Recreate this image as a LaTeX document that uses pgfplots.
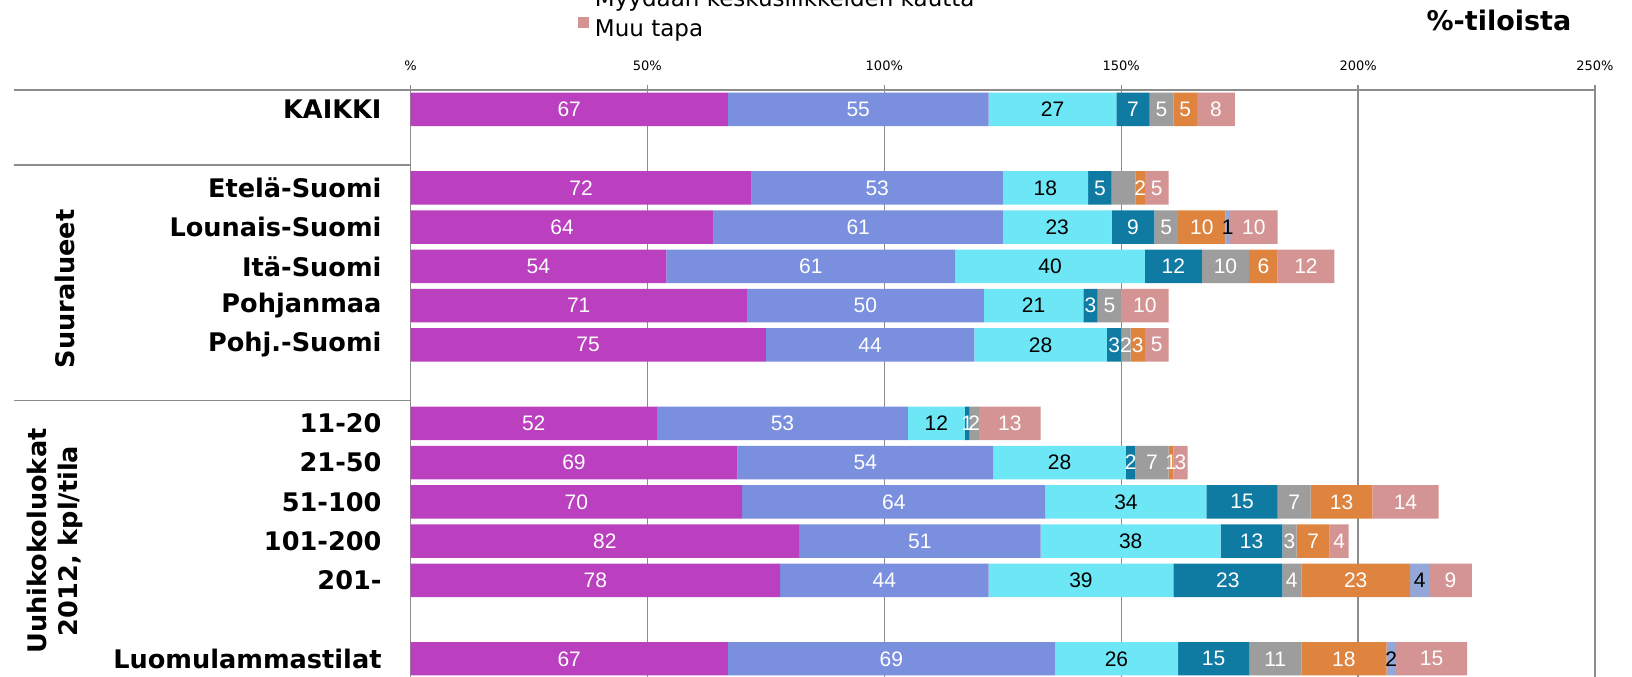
\documentclass[border=0pt]{standalone}
\usepackage{pgfplots}
\pgfplotsset{compat=1.18}
\usepackage{pgfplotstable}
\usepackage{fontspec}
\setmainfont{DejaVu Sans}
\newfontfamily\condfont{Liberation Sans}
\definecolor{c1}{RGB}{187,64,191}
\definecolor{c2}{RGB}{123,143,223}
\definecolor{c3}{RGB}{109,230,246}
\definecolor{c4}{RGB}{15,123,163}
\definecolor{c5}{RGB}{157,157,157}
\definecolor{c6}{RGB}{222,132,62}
\definecolor{c7}{RGB}{147,168,216}
\definecolor{c8}{RGB}{212,148,148}
\definecolor{axgray}{RGB}{140,140,140}

\pgfplotstableread{
y  a  b  c  d  e  f  g  h  le
14 67 55 27 7  5  5  0  8  5
12 72 53 18 5  5  2  0  5  0
11 64 61 23 9  5  10 1  10 5
10 54 61 40 12 10 6  0  12 10
9  71 50 21 3  5  0  0  10 5
8  75 44 28 3  2  3  0  5  2
6  52 53 12 1  2  0  0  13 2
5  69 54 28 2  7  1  0  3  7
4  70 64 34 15 7  13 0  14 7
3  82 51 38 13 3  7  0  4  3
2  78 44 39 23 4  23 4  9  4
0  67 69 26 15 11 18 2  15 11
}\data

\newcommand\seglabel{\pgfmathfloatifflags{\pgfplotspointmeta}{0}{}{%
  \pgfmathfloattofixed{\pgfplotspointmeta}\let\myv\pgfmathresult
  \pgfmathtruncatemacro\mylab{\myv}\mylab}}

\pgfplotsset{
  seg/.style n args={2}{
    fill=#1, draw=none,
    point meta=explicit,
    nodes near coords={\seglabel},
    every node near coord/.append style={anchor=center, inner sep=0pt,
      text=#2, font=\condfont\fontsize{10.5}{11}\selectfont},
  },
}

\begin{document}
\begin{tikzpicture}
\begin{axis}[
  at={(205.25pt,-1.2pt)}, anchor=south west,
  scale only axis, width=592.25pt, height=294.3pt,
  xbar stacked, bar width=16.7pt,
  xmin=0, xmax=250, ymin=-0.5, ymax=14.5,
  axis x line*=top, axis y line*=left,
  axis line style={draw=axgray, line width=0.7pt},
  xtick={0,50,...,250},
  xticklabels={\%,50\%,100\%,150\%,200\%,250\%},
  xmajorgrids, grid style={draw=axgray, line width=0.7pt},
  xtick style={draw=axgray, line width=0.7pt},
  major tick length=2.5pt, tick align=outside,
  xticklabel style={font=\fontsize{6.5}{7}\selectfont, inner sep=0pt, anchor=south, yshift=6.8pt},
  ytick={14,12,11,10,9,8,6,5,4,3,2,0},
  yticklabels={KAIKKI,Etelä-Suomi,Lounais-Suomi,Itä-Suomi,Pohjanmaa,Pohj.-Suomi,11-20,21-50,51-100,101-200,201-,Luomulammastilat},
  ytick style={draw=none},
  yticklabel style={font=\bfseries\fontsize{12.8}{14}\selectfont, inner sep=0pt, xshift=-11.8pt},
  clip=false,
  legend style={at={(0.1414,1.0822)}, anchor=south west, draw=none, fill=none,
    inner sep=0pt, outer sep=0pt, font=\fontsize{11.5}{13}\selectfont,
    nodes={inner sep=0pt, text height=8.5pt, text depth=2.5pt},
    row sep=3pt, /tikz/every odd column/.append style={column sep=3pt}},
  legend cell align=left,
  legend image code/.code={\fill[#1] (0pt,1.2pt) rectangle (5.5pt,6.7pt);},
]
\addplot[seg={c1}{white}, forget plot] table[x=a,y=y,meta=a]{\data};
\addplot[seg={c2}{white}, forget plot] table[x=b,y=y,meta=b]{\data};
\addplot[seg={c3}{black}, forget plot] table[x=c,y=y,meta=c]{\data};
\addplot[seg={c4}{white}, forget plot] table[x=d,y=y,meta=d]{\data};
\addplot[seg={c5}{white}, forget plot] table[x=e,y=y,meta=le]{\data};
\addplot[seg={c6}{white}, forget plot] table[x=f,y=y,meta=f]{\data};
\addplot[seg={c7}{black}] table[x=g,y=y,meta=g]{\data};
\addlegendentry{Myydään keskusliikkeiden kautta}
\addplot[seg={c8}{white}] table[x=h,y=y,meta=h]{\data};
\addlegendentry{Muu tapa}
\draw[axgray, line width=0.7pt] (axis cs:0,14.5) -- ++(-198.25pt,0pt);
\draw[axgray, line width=0.7pt] (axis cs:0,12.58) -- ++(-198.25pt,0pt);
\draw[axgray, line width=0.7pt] (axis cs:0,6.58) -- ++(-198.25pt,0pt);
\end{axis}
\node[font=\bfseries\fontsize{13.5}{15}\selectfont] at (749.5pt,327.6pt) {\%-tiloista};
\node[rotate=90, font=\bfseries\fontsize{12.8}{15.5}\selectfont] at (32.3pt,193.6pt) {Suuralueet};
\node[rotate=90, align=center, font=\bfseries\fontsize{12.8}{15.5}\selectfont] at (27.5pt,67.5pt) {Uuhikokoluokat\\2012, kpl/tila};
\pgfresetboundingbox
\useasboundingbox (0,0) rectangle (816pt,338pt);
\end{tikzpicture}
\end{document}
